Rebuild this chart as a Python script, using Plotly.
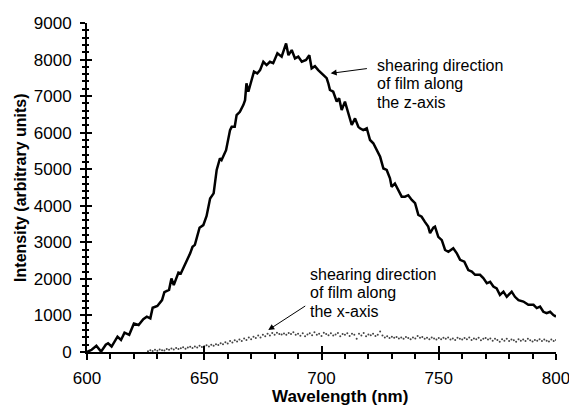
import plotly.graph_objects as go

# Main spectrum: shearing direction along the z-axis
z_wl = [600, 602, 604, 606, 608, 609, 610.5, 612, 613, 614.5, 616, 618, 620, 622, 624, 625.5, 627, 628, 630,
        632, 633, 635, 636, 637, 639, 640, 642.5, 644, 645, 646, 648, 649.6, 651, 652.5, 654, 655.3, 656.7,
        657.4, 659.3, 661, 661.7, 663, 663.8, 665.2, 666.7, 667.4, 668, 668.8, 670.2, 671.2, 672.6, 673.8,
        675.2, 676.6, 678, 679.4, 681.2, 683, 684.9, 685.9, 687.3, 688.7, 690.1, 691.6, 693.4, 694.8, 695.8,
        697.2, 698.6, 700.1, 702.2, 702.9, 703.6, 705, 706.5, 707.5, 708.6, 710, 711.4, 712.9, 714.3, 715.7,
        716.4, 717.8, 719.3, 720.7, 722.1, 723.5, 725, 726.4, 727.8, 729.2, 729.9, 731.3, 732.8, 734.2, 735.6,
        737, 738.5, 739.9, 741.3, 742.7, 744.1, 745.5, 746.3, 747.7, 748.4, 749.8, 751.3, 752.7, 754.1, 756.2,
        757.7, 759.1, 760.9, 762.6, 764.1, 765.5, 767.6, 769, 770.5, 771.9, 773.3, 774.7, 776.1, 777.6, 779,
        781.1, 782.5, 784, 786.1, 788.2, 790.4, 791.8, 793.2, 794.6, 796, 797.5, 798.9, 800]
z_int = [0, 60, 170, 10, 200, 240, 150, 330, 420, 330, 530, 470, 780, 740, 900, 965, 920, 1210, 1260,
         1420, 1640, 1700, 2010, 1830, 2170, 2150, 2470, 2700, 2880, 2930, 3400, 3470, 3720, 4200, 4340, 4980, 5300,
         5250, 5520, 6070, 6160, 6160, 6480, 6570, 6760, 6890, 7350, 7120, 7440, 7670, 7620, 7710,
         7940, 7850, 7940, 7900, 8170, 8080, 8440, 8120, 8260, 8030, 8080, 7940, 7990, 8120, 7760,
         7820, 7710, 7620, 7490, 7350, 7170, 7120, 6850, 6940, 6620, 6850, 6530, 6210, 6390, 6160,
         6120, 6070, 6120, 5800, 5710, 5525, 5340, 5020, 4980, 4750, 4520, 4610, 4430, 4250, 4250,
         4290, 4160, 4070, 3750, 3700, 3560, 3430, 3250, 3400, 3430, 3150, 3060, 2790, 2740, 2840,
         2700, 2520, 2470, 2240, 2200, 2110, 2110, 2020, 1880, 1920, 1790, 1740, 1560, 1650, 1510,
         1650, 1510, 1420, 1380, 1290, 1290, 1200, 1240, 1100, 1060, 1100, 1010, 970]

# Dotted spectrum: shearing direction along the x-axis (1 nm steps from 626 nm)
x_wl = list(range(626, 801))
x_int = [20, 45, 30, 60, 35, 70, 50, 40, 85, 60,
         95, 70, 110, 80, 100, 130, 90, 120, 145, 110,
         150, 125, 170, 140, 160, 185, 150, 200, 170, 215,
         190, 240, 210, 270, 235, 300, 260, 320, 285, 340,
         300, 370, 330, 395, 350, 420, 380, 450, 400, 470,
         430, 500, 450, 520, 470, 530, 490, 480, 505, 470,
         520, 490, 540, 470, 500, 445, 515, 430, 480, 510,
         460, 540, 470, 500, 440, 530, 490, 460, 510, 450,
         480, 520, 430, 490, 470, 510, 440, 500, 470, 360,
         500, 450, 520, 430, 480, 460, 500, 440, 470, 560,
         450, 400, 430, 380, 420, 390, 410, 370, 400, 360,
         410, 380, 350, 400, 370, 440, 390, 410, 360, 390,
         350, 400, 370, 340, 380, 350, 390, 360, 400, 340,
         370, 330, 390, 360, 340, 380, 350, 400, 330, 370,
         350, 390, 320, 360, 380, 340, 370, 310, 360, 330,
         280, 350, 310, 360, 300, 340, 320, 280, 350, 310,
         340, 300, 360, 320, 290, 330, 310, 350, 300, 340,
         310, 290, 340, 300, 330]

x_ticks = [600, 650, 700, 750, 800]
y_ticks = [0, 1000, 2000, 3000, 4000, 5000, 6000, 7000, 8000, 9000]

z_label = ["shearing direction", "of film along", "the z-axis"]
x_label = ["shearing direction", "of film along", "the x-axis"]

FONT = "Liberation Sans, Arial, sans-serif"

fig = go.Figure()
fig.add_trace(go.Scatter(x=x_wl, y=x_int, mode="markers",
                         marker=dict(size=2, color="#444444"), hoverinfo="skip"))
fig.add_trace(go.Scatter(x=z_wl, y=z_int, mode="lines",
                         line=dict(color="black", width=2.5), hoverinfo="skip"))
# invisible trace on overlay axes (for crossing ticks)
fig.add_trace(go.Scatter(x=[600], y=[0], xaxis="x2", yaxis="y2", mode="markers",
                         marker=dict(opacity=0), hoverinfo="skip", showlegend=False))

fig.update_layout(
    width=569, height=406,
    margin=dict(l=87, r=13, t=23, b=54, autoexpand=False),
    paper_bgcolor="white", plot_bgcolor="white",
    showlegend=False,
    font=dict(family=FONT, color="black"),
    xaxis=dict(range=[600, 800], tickvals=x_ticks, ticktext=[str(v) for v in x_ticks],
               showgrid=False, zeroline=False, showline=True, linecolor="black", linewidth=2,
               ticks="outside", ticklen=6, tickwidth=2, tickcolor="black",
               minor=dict(ticks="outside", dtick=10, ticklen=5, tickwidth=1.5, tickcolor="black"),
               tickfont=dict(size=17, family=FONT), ticklabelstandoff=4,
               ticklabeloverflow="allow", automargin=False),
    yaxis=dict(range=[0, 9000], tickvals=y_ticks, ticktext=[str(v) for v in y_ticks],
               showgrid=False, zeroline=False, showline=True, linecolor="black", linewidth=2,
               ticks="outside", ticklen=5, tickwidth=2, tickcolor="black",
               minor=dict(ticks="outside", dtick=200, ticklen=3, tickwidth=1.5, tickcolor="black"),
               tickfont=dict(size=17, family=FONT), ticklabelstandoff=5,
               ticklabeloverflow="allow", automargin=False),
    xaxis2=dict(range=[600, 800], overlaying="x", anchor="y2", tickvals=x_ticks,
                showticklabels=False, showgrid=False, zeroline=False, showline=False,
                ticks="inside", ticklen=6, tickwidth=2, tickcolor="black", automargin=False),
    yaxis2=dict(range=[0, 9000], overlaying="y", anchor="x2", tickvals=y_ticks,
                showticklabels=False, showgrid=False, zeroline=False, showline=False,
                ticks="inside", ticklen=5, tickwidth=2, tickcolor="black", automargin=False,
                minor=dict(ticks="inside", dtick=200, ticklen=2, tickwidth=1.5, tickcolor="black")),
)

# axis titles
fig.add_annotation(x=0.54, y=-0.135, xref="paper", yref="paper", text="<b>Wavelength (nm)</b>",
                   showarrow=False, xanchor="center", yanchor="middle",
                   font=dict(size=17, family=FONT, color="black"))
fig.add_annotation(x=-0.142, y=0.5, xref="paper", yref="paper", text="<b>Intensity (arbitrary units)</b>",
                   showarrow=False, xanchor="center", yanchor="middle", textangle=-90,
                   font=dict(size=16, family=FONT, color="black"))

# arrows
fig.add_annotation(x=703.9, y=7622, ax=720.0, ay=7759, axref="x", ayref="y", xref="x", yref="y",
                   text="", showarrow=True, arrowhead=2, arrowsize=1.2, arrowwidth=1, arrowcolor="black")
fig.add_annotation(x=677.3, y=602, ax=693.7, ay=1285, axref="x", ayref="y", xref="x", yref="y",
                   text="", showarrow=True, arrowhead=2, arrowsize=1.2, arrowwidth=1, arrowcolor="black")

# labels
z_ys = [7850, 7343, 6837]
for t, yv in zip(z_label, z_ys):
    fig.add_annotation(x=723.4, y=yv, xref="x", yref="y", text=t, showarrow=False, borderpad=0,
                       xanchor="left", yanchor="middle", font=dict(size=16, family=FONT, color="black"))
x_ys = [2133, 1627, 1121]
for t, yv in zip(x_label, x_ys):
    fig.add_annotation(x=694.6, y=yv, xref="x", yref="y", text=t, showarrow=False, borderpad=0,
                       xanchor="left", yanchor="middle", font=dict(size=16, family=FONT, color="black"))

fig.write_html("out.html")
